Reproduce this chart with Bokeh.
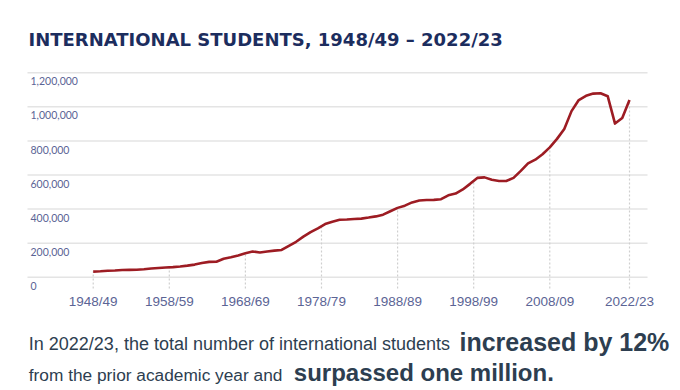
import numpy as np
from bokeh.plotting import figure
from bokeh.models import Range1d
from bokeh.core.properties import value
from bokeh.embed import file_html
from bokeh.resources import INLINE

# ---------------- data ----------------
academic_years = [f"{y}/{(y + 1) % 100:02d}" for y in range(1948, 2023)]
students = [
    33000, 35000, 38000, 39000, 42000, 43000, 44000, 47000, 51000, 54000,      # 1948/49-1957/58
    57000, 59000, 63000, 68000, 74000, 83000, 90000, 91000, 108000, 117000,    # 1958/59-1967/68
    128000, 141000, 151000, 145000, 151000, 156000, 160000, 184000, 208000, 238000,  # 1968/69-1977/78
    265000, 287000, 312000, 326000, 337000, 339000, 342000, 344000, 350000, 357000,  # 1978/79-1987/88
    367000, 387000, 407000, 420000, 439000, 450000, 453000, 454000, 458000, 481000,  # 1988/89-1997/98
    491000, 515000, 548000, 583000, 586000, 572000, 565000, 565000, 583000, 624000,  # 1998/99-2007/08
    668000, 690000, 722000, 762000, 812000, 870000, 975000, 1040000, 1065000, 1078000,  # 2008/09-2017/18
    1080000, 1062000, 902000, 935000, 1040000,                                   # 2018/19-2022/23
]
x_tick_labels = ["1948/49", "1958/59", "1968/69", "1978/79", "1988/89", "1998/99", "2008/09", "2022/23"]
y_ticks = [0, 200000, 400000, 600000, 800000, 1000000, 1200000]

title_text = "INTERNATIONAL STUDENTS, 1948/49 \u2013 2022/23"
line1_regular = "In 2022/23, the total number of international students"
line1_bold = "increased by 12%"
line2_regular = "from the prior academic year and"
line2_bold = "surpassed one million."

# ---------------- layout (pixel geometry of the chart) ----------------
W, H = 680, 390
n = len(students) - 1
first_px, last_px = 92.7, 629.0          # where first / last data point sit
zero_py, top_py = 276.7, 72.3            # pixel rows of 0 and of the top tick
ppx = (last_px - first_px) / n           # pixels per index step
vpp = y_ticks[-1] / (zero_py - top_py)   # value per pixel


def X(px):
    return (px - first_px) / ppx


def Y(py):
    return (zero_py - py) * vpp


def Ymid(baseline_py, size_px):
    # vertical centre of capitals for a text whose baseline is at baseline_py
    return Y(baseline_py - 0.36 * size_px)


# tick positions along the index axis (evenly spread as in the original)
tick_pos = [k * 10.5 for k in range(len(x_tick_labels) - 1)] + [float(n)]

p = figure(width=W, height=H, output_backend="svg", toolbar_location=None,
           x_range=Range1d(X(0), X(W)), y_range=Range1d(Y(H), Y(0)),
           x_axis_location=None, y_axis_location=None,
           min_border=0, min_border_left=0, min_border_right=0,
           min_border_top=0, min_border_bottom=0)
p.outline_line_color = None
p.background_fill_color = "white"
p.border_fill_color = "white"
p.grid.visible = False

# horizontal gridlines
p.segment(x0=[X(27)] * len(y_ticks), y0=y_ticks, x1=[X(647)] * len(y_ticks), y1=y_ticks,
          line_color="#e4e4e4", line_width=1.5)

idx = np.arange(len(students))
# dotted drop lines from below the axis up to the curve
p.segment(x0=tick_pos, y0=[Y(288)] * len(tick_pos), x1=tick_pos,
          y1=list(np.interp(tick_pos, idx, students)),
          line_color="#cfcfcf", line_width=1.2, line_dash="2 2")

p.line(idx, students, line_color="#9d1c23", line_width=2.6, line_join="round")

axis_col = "#5b6495"
# y labels under each gridline
p.text(x=[X(30)] * len(y_ticks), y=y_ticks, text=[f"{v:,}" for v in y_ticks],
       y_offset=8.6, text_baseline="middle", text_align="left",
       text_font=value("Lato"), text_font_size="10.5px", text_color=axis_col)

# x tick labels
p.text(x=tick_pos, y=[0] * len(tick_pos), text=x_tick_labels,
       y_offset=24.6, text_baseline="middle", text_align="center",
       text_font=value("Liberation Sans"), text_font_size="13.5px", text_color=axis_col)

# title
p.text(x=[X(28)], y=[Y(38.7)], text=[title_text], text_baseline="middle",
       text_align="left", text_font=value("DejaVu Sans"), text_font_style="bold",
       text_font_size="18px", text_color="#1c2d5e")

txt_col = "#2d3e50"
p.text(x=[X(28.3)], y=[Ymid(350, 18)], text=[line1_regular], text_baseline="middle",
       text_font=value("Liberation Sans"), text_font_size="18px", text_color=txt_col)
p.text(x=[X(459)], y=[Ymid(350, 25)], text=[line1_bold], text_baseline="middle",
       text_font=value("Liberation Sans"), text_font_style="bold",
       text_font_size="25px", text_color=txt_col)
p.text(x=[X(28.3)], y=[Ymid(380.7, 17.3)], text=[line2_regular], text_baseline="middle",
       text_font=value("Liberation Sans"), text_font_size="17.3px", text_color=txt_col)
p.text(x=[X(293.3)], y=[Ymid(380.7, 24)], text=[line2_bold], text_baseline="middle",
       text_font=value("Liberation Sans"), text_font_style="bold",
       text_font_size="24px", text_color=txt_col)

open("out.html", "w").write(file_html(p, INLINE))
